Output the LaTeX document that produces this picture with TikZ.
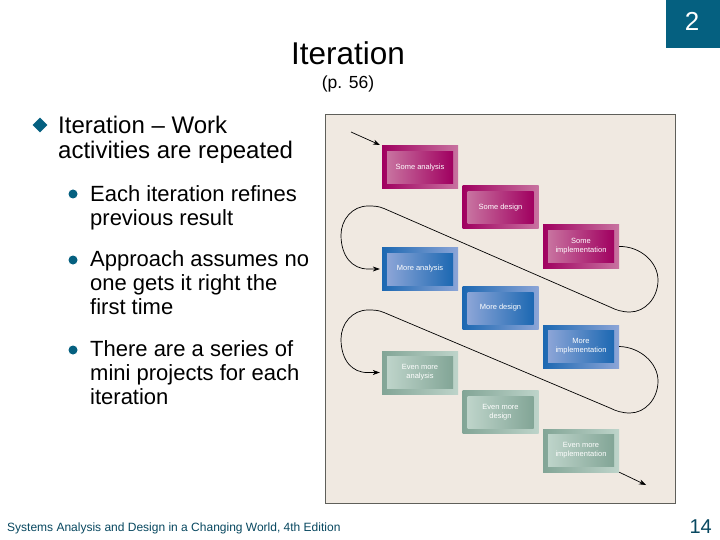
\documentclass[tikz,border=0pt]{standalone}
\usepackage{fontspec}
\setmainfont{Liberation Sans}
\usetikzlibrary{arrows.meta,shapes.geometric}
\definecolor{tealmark}{RGB}{5,96,128}
\definecolor{footcolor}{RGB}{8,72,96}
\definecolor{panelbg}{RGB}{240,233,225}
\definecolor{panelline}{RGB}{95,95,90}
\definecolor{plumdark}{RGB}{160,0,96}
\definecolor{plumlight}{RGB}{200,115,160}
\definecolor{bluedark}{RGB}{28,104,178}
\definecolor{bluelight}{RGB}{140,165,215}
\definecolor{sagedark}{RGB}{130,165,150}
\definecolor{sagelight}{RGB}{190,212,202}
\tikzset{
  outerbox/.style n args={2}{rectangle,minimum width=76pt,minimum height=43pt,inner sep=0pt,left color=#1,right color=#2},
  innerbox/.style n args={2}{rectangle,minimum width=66pt,minimum height=32pt,inner sep=0pt,left color=#1,right color=#2,text=white,align=center,font=\fontsize{7.5}{9.3}\selectfont},
  flowline/.style={line width=0.7pt,black,-{Stealth[length=7pt,width=5pt]}},
  bodytext/.style={anchor=north west,inner sep=0pt,align=left,text=black}
}
\begin{document}
\begin{tikzpicture}[x=1pt,y=-1pt]
\useasboundingbox (0,0) rectangle (720,540);
\fill[white] (0,0) rectangle (720,540);
\node[fill=tealmark,minimum width=54pt,minimum height=48pt,inner sep=0pt] (pagemark) at (693,24) {};
\node[text=white,font=\fontsize{26}{26}\selectfont] (chapter) at (692,21) {2};
\node[font=\fontsize{31.5}{32}\selectfont] (title) at (348,53) {Iteration};
\node[font=\fontsize{17.5}{18}\selectfont] (pageref) at (348,84) {(p. 56)};
\node[diamond,fill=tealmark,minimum width=15pt,minimum height=15pt,inner sep=0pt] (mainbullet) at (40,125) {};
\node[bodytext,font=\fontsize{24}{25}\selectfont] (maintext) at (58,116) {Iteration -- Work\\activities are repeated};
\node[circle,fill=tealmark,minimum size=9pt,inner sep=0pt] (bulleta) at (73,194) {};
\node[bodytext,font=\fontsize{22}{24}\selectfont] (texta) at (90,185) {Each iteration refines\\previous result};
\node[circle,fill=tealmark,minimum size=9pt,inner sep=0pt] (bulletb) at (73,260) {};
\node[bodytext,font=\fontsize{22}{24}\selectfont] (textb) at (90,250) {Approach assumes no\\one gets it right the\\first time};
\node[circle,fill=tealmark,minimum size=9pt,inner sep=0pt] (bulletc) at (73,350) {};
\node[bodytext,font=\fontsize{22}{24}\selectfont] (textc) at (90,340) {There are a series of\\mini projects for each\\iteration};
\draw[panelline,fill=panelbg,line width=1pt] (325,115) rectangle (675,503);
\node[outerbox={plumdark}{plumlight}] (someanalysis) at (420,167.5) {};
\node[innerbox={plumlight}{plumdark}] at (someanalysis) {Some analysis};
\node[outerbox={plumdark}{plumlight}] (somedesign) at (500.5,207.5) {};
\node[innerbox={plumlight}{plumdark}] at (somedesign) {Some design};
\node[outerbox={plumdark}{plumlight}] (someimpl) at (581,246.5) {};
\node[innerbox={plumlight}{plumdark}] at (someimpl) {Some\\implementation};
\node[outerbox={bluedark}{bluelight}] (moreanalysis) at (420,269) {};
\node[innerbox={bluelight}{bluedark}] at (moreanalysis) {More analysis};
\node[outerbox={bluedark}{bluelight}] (moredesign) at (500.5,308) {};
\node[innerbox={bluelight}{bluedark}] at (moredesign) {More design};
\node[outerbox={bluedark}{bluelight}] (moreimpl) at (581,346.5) {};
\node[innerbox={bluelight}{bluedark}] at (moreimpl) {More\\implementation};
\node[outerbox={sagedark}{sagelight}] (evenanalysis) at (420,372.5) {};
\node[innerbox={sagelight}{sagedark}] at (evenanalysis) {Even more\\analysis};
\node[outerbox={sagedark}{sagelight}] (evendesign) at (500.5,412) {};
\node[innerbox={sagelight}{sagedark}] at (evendesign) {Even more\\design};
\node[outerbox={sagedark}{sagelight}] (evenimpl) at (581,450.5) {};
\node[innerbox={sagelight}{sagedark}] at (evenimpl) {Even more\\implementation};
\coordinate (startpoint) at (351,132);
\coordinate (endpoint) at (646,485);
\draw[flowline,shorten >=2pt] (startpoint) -- (someanalysis.north west);
\draw[flowline,shorten >=2pt] (someimpl.east) .. controls (640,246) and (658,262) .. (658,280) .. controls (658,298) and (645,312) .. (630,312) .. controls (622,312) and (616,310) .. (610,307) -- (384,208.5) .. controls (378,206) and (374,206) .. (368,206) .. controls (352,206) and (341,220) .. (341,235) .. controls (341,256) and (352,269) .. (368,269) -- (moreanalysis.west);
\draw[flowline,shorten >=2pt] (moreimpl.east) .. controls (640,347) and (658,363) .. (658,381) .. controls (658,399) and (645,413) .. (630,413) .. controls (622,413) and (616,411) .. (610,408) -- (384,312.5) .. controls (378,310) and (374,310) .. (368,310) .. controls (352,310) and (341,324) .. (341,339) .. controls (341,360) and (352,373) .. (368,372.5) -- (evenanalysis.west);
\draw[flowline] (evenimpl.south east) -- (endpoint);
\node[anchor=base west,inner sep=0pt,font=\fontsize{12}{12}\selectfont,text=footcolor] (footer) at (7,531) {Systems Analysis and Design in a Changing World, 4th Edition};
\node[anchor=base east,inner sep=0pt,font=\fontsize{20}{20}\selectfont,text=footcolor] (pagenum) at (712,533) {14};
\end{tikzpicture}
\end{document}
